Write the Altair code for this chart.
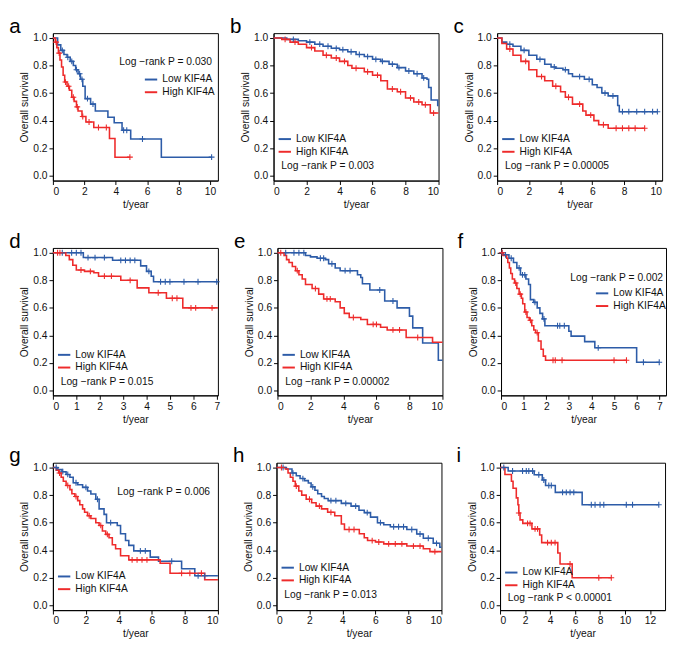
import altair as alt
import pandas as pd

BLUE = "#2d5ca8"
RED = "#ee2b2b"
FONT = "Liberation Sans"
LOW = "Low KIF4A"
HIGH = "High KIF4A"

# ---------------- data ----------------
a_low_t = [0, 0.3, 0.5, 0.7, 0.9, 1.1, 1.3, 1.45, 1.6, 1.75, 1.9, 2.05, 2.4, 2.7, 3.5, 3.9, 4.4, 4.95, 6.9, 10.1]
a_low_s = [1.0, 0.95, 0.91, 0.88, 0.86, 0.83, 0.80, 0.77, 0.74, 0.70, 0.65, 0.56, 0.52, 0.47, 0.425, 0.385, 0.33, 0.267, 0.135, 0.135]
a_low_c = [0.6, 0.95, 1.2, 1.5, 1.7, 1.85, 2.2, 2.55, 4.5, 4.7, 5.7, 10.1]
a_high_t = [0, 0.15, 0.25, 0.35, 0.45, 0.55, 0.65, 0.75, 0.9, 1.05, 1.2, 1.35, 1.5, 1.6, 1.85, 2.1, 2.6, 3.6, 3.95, 4.9]
a_high_s = [1.0, 0.97, 0.93, 0.89, 0.84, 0.79, 0.73, 0.68, 0.65, 0.62, 0.57, 0.54, 0.50, 0.47, 0.43, 0.39, 0.35, 0.27, 0.135, 0.135]
a_high_c = [0.2, 0.4, 0.8, 1.0, 1.3, 1.55, 1.9, 2.3, 2.9, 3.4, 4.9]

b_low_t = [0, 0.8, 1.5, 2.0, 2.5, 3.0, 3.5, 4.0, 4.5, 5.0, 5.5, 6.0, 6.5, 7.0, 7.5, 8.0, 8.5, 9.0, 9.3, 9.4, 9.55, 9.95, 10.0]
b_low_s = [1.0, 0.99, 0.98, 0.97, 0.955, 0.94, 0.925, 0.915, 0.90, 0.88, 0.865, 0.845, 0.83, 0.81, 0.785, 0.76, 0.74, 0.71, 0.70, 0.64, 0.55, 0.51, 0.51]
b_low_c = [1.2, 2.2, 2.8, 3.3, 3.8, 4.2, 4.7, 5.2, 5.7, 6.2, 6.6, 7.2, 7.6, 8.2, 8.7, 9.1]
b_high_t = [0, 0.5, 1.0, 1.5, 2.0, 2.5, 3.0, 3.5, 4.0, 4.5, 4.75, 5.5, 6.0, 6.5, 6.9, 7.5, 8.0, 8.5, 9.0, 9.5, 10.0]
b_high_s = [1.0, 0.99, 0.97, 0.955, 0.93, 0.905, 0.875, 0.855, 0.83, 0.80, 0.78, 0.755, 0.73, 0.69, 0.63, 0.61, 0.565, 0.535, 0.515, 0.455, 0.455]
b_high_c = [0.7, 1.3, 2.3, 3.2, 3.8, 4.3, 5.0, 5.7, 6.3, 7.2, 7.7, 8.3, 8.8, 9.2, 9.7]

c_low_t = [0, 0.3, 0.6, 1.0, 1.5, 2.0, 2.5, 3.0, 3.4, 3.7, 4.15, 4.5, 4.75, 5.5, 6.0, 6.3, 6.6, 7.0, 7.6, 7.7, 10.1]
c_low_s = [1.0, 0.97, 0.955, 0.94, 0.91, 0.875, 0.845, 0.81, 0.79, 0.78, 0.77, 0.74, 0.72, 0.70, 0.66, 0.64, 0.60, 0.58, 0.51, 0.465, 0.465]
c_low_c = [0.8, 1.7, 2.7, 3.6, 4.3, 5.2, 5.8, 6.8, 7.3, 7.9, 8.3, 8.8, 9.3, 9.8, 10.1]
c_high_t = [0, 0.3, 0.6, 1.0, 1.5, 2.0, 2.5, 3.0, 3.5, 4.0, 4.3, 4.75, 5.4, 5.6, 6.1, 6.4, 7.0, 9.3]
c_high_s = [1.0, 0.96, 0.92, 0.875, 0.83, 0.77, 0.72, 0.69, 0.65, 0.61, 0.57, 0.52, 0.47, 0.44, 0.40, 0.37, 0.345, 0.345]
c_high_c = [0.8, 1.8, 2.8, 3.7, 4.5, 5.2, 5.9, 6.7, 7.5, 7.9, 8.3, 8.7, 9.3]

d_low_t = [0, 1.3, 2.55, 3.75, 4.0, 4.2, 4.3, 7.05]
d_low_s = [1.0, 0.965, 0.945, 0.905, 0.865, 0.83, 0.79, 0.79]
d_low_c = [0.4, 0.8, 1.0, 1.2, 1.5, 1.8, 2.2, 2.9, 3.1, 3.3, 3.5, 4.1, 4.6, 4.8, 5.0, 5.6, 6.2, 7.0]
d_high_t = [0, 0.55, 0.7, 0.85, 1.0, 1.35, 1.75, 1.95, 2.9, 3.6, 4.1, 4.85, 5.55, 7.05]
d_high_s = [1.0, 0.98, 0.95, 0.91, 0.875, 0.865, 0.855, 0.83, 0.80, 0.745, 0.71, 0.67, 0.60, 0.60]
d_high_c = [0.2, 0.3, 1.2, 1.6, 2.2, 2.5, 3.3, 4.5, 5.1, 5.3, 5.9, 6.1, 6.8]

e_low_t = [0, 1.7, 2.0, 2.4, 2.9, 3.1, 3.5, 3.8, 4.85, 5.05, 5.15, 5.6, 6.5, 7.25, 8.0, 8.2, 8.8, 9.75, 10.0]
e_low_s = [1.0, 0.98, 0.97, 0.96, 0.95, 0.92, 0.89, 0.87, 0.84, 0.82, 0.775, 0.73, 0.65, 0.60, 0.54, 0.455, 0.345, 0.22, 0.22]
e_low_c = [0.5, 1.0, 1.3, 1.6, 2.6, 2.8, 3.3, 4.1, 4.4, 6.2, 7.0]
e_high_t = [0, 0.4, 0.55, 0.7, 0.9, 1.1, 1.3, 1.5, 1.7, 2.1, 2.5, 2.8, 3.5, 3.8, 4.05, 4.35, 5.05, 5.45, 6.25, 6.65, 7.8, 9.4, 10.0]
e_high_s = [1.0, 0.98, 0.95, 0.93, 0.90, 0.87, 0.84, 0.81, 0.77, 0.74, 0.70, 0.665, 0.645, 0.60, 0.56, 0.53, 0.515, 0.48, 0.46, 0.44, 0.385, 0.35, 0.35]
e_high_c = [0.2, 1.2, 2.3, 3.0, 3.2, 4.6, 5.8, 6.0, 7.0, 7.4, 8.5]

f_low_t = [0, 0.1, 0.35, 0.55, 0.7, 0.86, 1.1, 1.22, 1.3, 1.45, 1.6, 1.72, 1.84, 1.94, 3.0, 3.1, 3.7, 4.15, 6.0, 7.0]
f_low_s = [1.0, 0.985, 0.96, 0.93, 0.89, 0.84, 0.81, 0.77, 0.66, 0.64, 0.60, 0.56, 0.52, 0.47, 0.43, 0.395, 0.355, 0.31, 0.205, 0.205]
f_low_c = [0.05, 0.2, 0.45, 0.8, 0.95, 1.05, 1.5, 1.9, 2.5, 2.6, 2.8, 4.3, 6.3, 7.0]
f_high_t = [0, 0.1, 0.25, 0.3, 0.37, 0.43, 0.5, 0.6, 0.7, 0.8, 0.9, 0.96, 1.05, 1.15, 1.25, 1.36, 1.45, 1.53, 1.65, 1.77, 1.87, 1.97, 5.55]
f_high_s = [1.0, 0.98, 0.96, 0.93, 0.89, 0.85, 0.81, 0.78, 0.74, 0.70, 0.67, 0.63, 0.57, 0.53, 0.51, 0.47, 0.44, 0.42, 0.36, 0.30, 0.25, 0.22, 0.22]
f_high_c = [0.05, 0.65, 0.85, 1.1, 1.3, 1.6, 2.3, 2.4, 2.7, 5.0, 5.55]

g_low_t = [0, 0.3, 0.55, 0.8, 1.03, 1.23, 1.5, 1.8, 2.1, 2.3, 2.6, 2.8, 3.1, 3.25, 3.9, 4.1, 4.4, 4.6, 4.9, 5.9, 6.4, 7.8, 8.6, 10.0]
g_low_s = [1.0, 0.985, 0.97, 0.95, 0.93, 0.89, 0.875, 0.856, 0.83, 0.808, 0.77, 0.70, 0.66, 0.60, 0.58, 0.52, 0.47, 0.435, 0.395, 0.35, 0.32, 0.265, 0.215, 0.215]
g_low_c = [0.2, 0.6, 0.9, 1.4, 2.0, 2.7, 3.5, 5.3, 5.6, 7.2, 8.8, 9.2]
g_high_t = [0, 0.2, 0.35, 0.5, 0.63, 0.8, 1.03, 1.15, 1.33, 1.5, 1.63, 1.8, 1.92, 2.1, 2.3, 2.6, 2.8, 3.0, 3.2, 3.4, 3.6, 3.8, 4.1, 4.6, 6.5, 7.1, 9.2, 10.0]
g_high_s = [1.0, 0.98, 0.96, 0.93, 0.90, 0.87, 0.84, 0.81, 0.79, 0.76, 0.73, 0.70, 0.675, 0.65, 0.63, 0.60, 0.58, 0.54, 0.515, 0.49, 0.44, 0.41, 0.36, 0.33, 0.305, 0.233, 0.185, 0.185]
g_high_c = [0.4, 0.9, 1.4, 2.2, 2.9, 3.3, 4.8, 5.1, 5.4, 5.7, 7.8, 8.3, 9.0]

h_low_t = [0, 0.6, 0.94, 1.2, 1.43, 1.7, 1.93, 2.1, 2.33, 2.5, 2.73, 2.9, 3.13, 3.93, 4.52, 5.0, 5.32, 5.7, 6.12, 6.5, 6.9, 7.9, 8.5, 8.9, 9.5, 9.9, 10.0]
h_low_s = [1.0, 0.99, 0.96, 0.94, 0.92, 0.905, 0.888, 0.86, 0.835, 0.81, 0.79, 0.775, 0.76, 0.74, 0.72, 0.69, 0.673, 0.64, 0.60, 0.585, 0.57, 0.55, 0.518, 0.487, 0.45, 0.422, 0.422]
h_low_c = [0.4, 1.0, 1.6, 2.2, 3.3, 3.6, 4.2, 4.8, 5.5, 6.3, 7.1, 7.4, 7.7, 8.2, 8.7, 9.2, 9.7]
h_high_t = [0, 0.54, 0.7, 0.84, 1.0, 1.14, 1.35, 1.53, 1.8, 2.13, 2.4, 2.73, 3.1, 3.53, 3.93, 4.12, 5.02, 5.32, 5.52, 6.0, 6.5, 7.9, 8.9, 9.3, 10.0]
h_high_s = [1.0, 0.99, 0.96, 0.93, 0.90, 0.865, 0.83, 0.80, 0.77, 0.745, 0.72, 0.70, 0.675, 0.65, 0.59, 0.55, 0.52, 0.49, 0.47, 0.46, 0.446, 0.43, 0.41, 0.39, 0.39]
h_high_c = [0.3, 1.2, 2.0, 2.6, 3.3, 4.4, 4.7, 5.8, 6.2, 6.8, 7.2, 7.6, 8.3, 8.7, 9.6]

i_low_t = [0, 0.65, 2.73, 3.38, 3.64, 4.42, 6.57, 12.7]
i_low_s = [1.0, 0.975, 0.948, 0.91, 0.87, 0.82, 0.73, 0.73]
i_low_c = [0.3, 1.0, 1.8, 2.1, 2.3, 2.6, 3.1, 3.5, 3.9, 4.1, 5.0, 5.3, 5.6, 5.9, 7.3, 7.6, 8.0, 8.3, 10.1, 10.6, 12.7]
i_high_t = [0, 0.39, 0.91, 1.04, 1.3, 1.43, 1.5, 1.6, 1.82, 2.55, 3.17, 3.33, 4.62, 4.8, 5.77, 8.9]
i_high_s = [1.0, 0.95, 0.90, 0.85, 0.78, 0.73, 0.67, 0.62, 0.595, 0.555, 0.51, 0.455, 0.38, 0.30, 0.20, 0.20]
i_high_c = [1.5, 2.2, 2.4, 2.8, 3.0, 3.8, 4.1, 4.4, 5.6, 7.9, 8.9]

p_labels = ["Log \u2212rank P = 0.030", "Log \u2212rank P = 0.003", "Log \u2212rank P = 0.00005",
            "Log \u2212rank P = 0.015", "Log \u2212rank P = 0.00002", "Log \u2212rank P = 0.002",
            "Log \u2212rank P = 0.006", "Log \u2212rank P = 0.013", "Log \u2212rank P < 0.00001"]
x_max = [10.5, 10, 10.4, 7.05, 10, 7.3, 10, 10, 13.2]
x_ticks = [[0, 2, 4, 6, 8, 10]] * 3 + [[0, 1, 2, 3, 4, 5, 6, 7], [0, 2, 4, 6, 8, 10], [0, 1, 2, 3, 4, 5, 6, 7],
           [0, 2, 4, 6, 8, 10], [0, 2, 4, 6, 8, 10], [0, 2, 4, 6, 8, 10, 12]]
y_ticks = [0.0, 0.2, 0.4, 0.6, 0.8, 1.0]

curves = [
    ((a_low_t, a_low_s, a_low_c), (a_high_t, a_high_s, a_high_c)),
    ((b_low_t, b_low_s, b_low_c), (b_high_t, b_high_s, b_high_c)),
    ((c_low_t, c_low_s, c_low_c), (c_high_t, c_high_s, c_high_c)),
    ((d_low_t, d_low_s, d_low_c), (d_high_t, d_high_s, d_high_c)),
    ((e_low_t, e_low_s, e_low_c), (e_high_t, e_high_s, e_high_c)),
    ((f_low_t, f_low_s, f_low_c), (f_high_t, f_high_s, f_high_c)),
    ((g_low_t, g_low_s, g_low_c), (g_high_t, g_high_s, g_high_c)),
    ((h_low_t, h_low_s, h_low_c), (h_high_t, h_high_s, h_high_c)),
    ((i_low_t, i_low_s, i_low_c), (i_high_t, i_high_s, i_high_c)),
]
letters = list("abcdefghi")

# layout of annotations (pixels inside each plot area)
# (p text x, p text y, legend x, legend y)
layout = [
    (68, 30, 93, 40),
    (8, 136, 4, 101),
    (8, 136, 4, 101),
    (8, 137, 4, 102),
    (8, 137, 4, 102),
    (71, 31, 96, 39),
    (66, 30, 4, 109),
    (8, 136, 4, 100),
    (8, 139, 4, 105),
]

W, H = 169, 151


def step_at(ts, ss, c):
    v = ss[0]
    for t, s in zip(ts, ss):
        if t <= c:
            v = s
    return v


def make_panel(k):
    (lt, ls, lc), (ht, hs, hc) = curves[k]
    line_rows, cens_rows = [], []
    for grp, ts, ss, cs in [(LOW, lt, ls, lc), (HIGH, ht, hs, hc)]:
        for t, s in zip(ts, ss):
            line_rows.append({"t": t, "s": s, "group": grp})
        for c in cs:
            cens_rows.append({"t": c, "s": step_at(ts, ss, c), "group": grp})
    ldf = pd.DataFrame(line_rows)
    cdf = pd.DataFrame(cens_rows)
    px, py, lx, ly = layout[k]

    color = alt.Color(
        "group:N",
        scale=alt.Scale(domain=[LOW, HIGH], range=[BLUE, RED]),
        legend=alt.Legend(orient="none", legendX=lx, legendY=ly, title=None, direction="vertical",
                          symbolType="stroke", symbolStrokeWidth=2, symbolSize=160,
                          labelFontSize=10.5, labelFont=FONT, labelColor="#111",
                          rowPadding=0, padding=0, labelOffset=4),
    )
    x = alt.X("t:Q", scale=alt.Scale(domain=[0, x_max[k]], nice=False, zero=True),
              axis=alt.Axis(values=x_ticks[k], format="d", title="t/year"))
    y = alt.Y("s:Q", scale=alt.Scale(domain=[-0.035, 1.035], nice=False),
              axis=alt.Axis(values=y_ticks, format=".1f", title="Overall survival"))

    lines = alt.Chart(ldf).mark_line(interpolate="step-after", strokeWidth=1.6).encode(
        x=x, y=y, color=color, order=alt.Order("t:Q"))
    cens = alt.Chart(cdf).mark_point(shape="M-1,0L1,0M0,-1L0,1", size=36, strokeWidth=1.1,
                                     filled=False, opacity=1).encode(x=x, y=y, color=color)
    ptxt = alt.Chart(pd.DataFrame({"p": [p_labels[k]]})).mark_text(
        align="left", baseline="middle", fontSize=10.5, font=FONT, color="#111").encode(
        x=alt.value(px), y=alt.value(py), text="p:N")
    return alt.layer(lines, cens, ptxt).properties(
        width=W, height=H,
        title=alt.TitleParams(letters[k], anchor="start", frame="bounds", fontSize=21,
                              fontWeight="normal", font=FONT, color="black", dx=-11, offset=-4))


panels = [make_panel(k) for k in range(9)]
rows = [alt.hconcat(*panels[r * 3:r * 3 + 3], spacing=10)
        .resolve_scale(color="independent").resolve_legend(color="independent") for r in range(3)]
chart = (alt.vconcat(*rows, spacing=20)
         .resolve_scale(color="independent").resolve_legend(color="independent")
         .properties(padding={"left": 0, "top": 0, "right": 0, "bottom": 0})
         .configure_view(stroke="black", strokeWidth=1)
         .configure_axis(labelFont=FONT, titleFont=FONT, labelFontSize=10.5, titleFontSize=10.5,
                         labelColor="#111", titleColor="#111", titleFontWeight="normal",
                         domainColor="black", tickColor="black", tickSize=4, grid=False,
                         labelPadding=2, titlePadding=3))

chart.save("out.html", embed_options={"renderer": "svg", "actions": False})
